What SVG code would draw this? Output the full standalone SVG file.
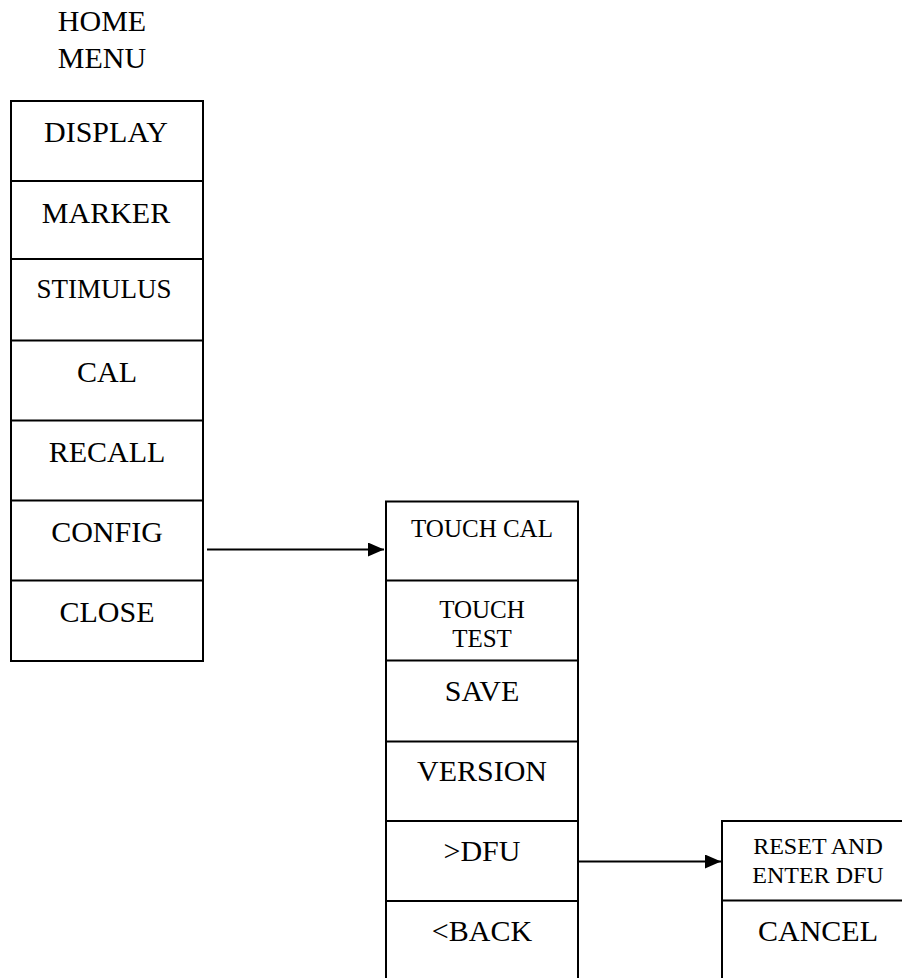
<svg xmlns="http://www.w3.org/2000/svg" width="902" height="978" viewBox="0 0 902 978">
  <defs>
    <style>
      .box { fill: #ffffff; stroke: #000000; stroke-width: 2; }
      .div { stroke: #000000; stroke-width: 2; }
      .lbl { font-family: "Liberation Serif", "Times New Roman", serif; fill: #000000; text-anchor: middle; }
      .big { font-size: 30px; }
      .mid { font-size: 27px; }
      .sm { font-size: 25px; }
      .xs { font-size: 24px; }
      .link { stroke: #000000; stroke-width: 2; fill: none; marker-end: url(#head); }
    </style>
    <marker id="head" viewBox="0 0 16 14" refX="16" refY="7" markerWidth="16" markerHeight="14" markerUnits="userSpaceOnUse" orient="auto">
      <path d="M0,0 L16,7 L0,14 Z" fill="#000000"/>
    </marker>
  </defs>
  <rect width="902" height="978" fill="#ffffff"/>

  <!-- title -->
  <g id="title">
    <text class="lbl big" x="102" y="31">HOME</text>
    <text class="lbl big" x="102" y="68">MENU</text>
  </g>

  <!-- home menu column -->
  <g id="home-menu">
    <rect class="box" x="11" y="101" width="192" height="560"/>
    <line class="div" x1="11" y1="181" x2="203" y2="181"/>
    <line class="div" x1="11" y1="259" x2="203" y2="259"/>
    <line class="div" x1="11" y1="340.5" x2="203" y2="340.5" stroke-width="3"/>
    <line class="div" x1="11" y1="420.5" x2="203" y2="420.5"/>
    <line class="div" x1="11" y1="500.5" x2="203" y2="500.5"/>
    <line class="div" x1="11" y1="580.5" x2="203" y2="580.5"/>
  </g>
  <g id="display"><text class="lbl big" x="106" y="142">DISPLAY</text></g>
  <g id="marker"><text class="lbl big" x="106" y="223">MARKER</text></g>
  <g id="stimulus"><text class="lbl mid" x="104" y="298">STIMULUS</text></g>
  <g id="cal"><text class="lbl big" x="107" y="382">CAL</text></g>
  <g id="recall"><text class="lbl big" x="107" y="462">RECALL</text></g>
  <g id="config"><text class="lbl big" x="107" y="542">CONFIG</text></g>
  <g id="close"><text class="lbl big" x="107" y="622">CLOSE</text></g>

  <!-- config submenu column -->
  <g id="config-menu">
    <rect class="box" x="386" y="501.5" width="192" height="500"/>
    <line class="div" x1="386" y1="580.5" x2="578" y2="580.5"/>
    <line class="div" x1="386" y1="660.5" x2="578" y2="660.5"/>
    <line class="div" x1="386" y1="741.5" x2="578" y2="741.5" stroke-width="3"/>
    <line class="div" x1="386" y1="821" x2="578" y2="821"/>
    <line class="div" x1="386" y1="901" x2="578" y2="901"/>
  </g>
  <g id="touch-cal"><text class="lbl sm" x="482" y="537">TOUCH CAL</text></g>
  <g id="touch-test">
    <text class="lbl sm" x="482" y="618">TOUCH</text>
    <text class="lbl sm" x="482" y="647">TEST</text>
  </g>
  <g id="save"><text class="lbl big" x="482" y="701">SAVE</text></g>
  <g id="version"><text class="lbl big" x="482" y="781">VERSION</text></g>
  <g id="dfu"><text class="lbl big" x="482" y="861">&gt;DFU</text></g>
  <g id="back"><text class="lbl big" x="482" y="941">&lt;BACK</text></g>

  <!-- dfu confirm column -->
  <g id="dfu-menu">
    <rect class="box" x="722" y="821" width="192" height="180"/>
    <line class="div" x1="722" y1="900.5" x2="914" y2="900.5"/>
  </g>
  <g id="reset-enter-dfu">
    <text class="lbl xs" x="818" y="854">RESET AND</text>
    <text class="lbl xs" x="818" y="883">ENTER DFU</text>
  </g>
  <g id="cancel"><text class="lbl big" x="818" y="941">CANCEL</text></g>

  <!-- connectors -->
  <g id="connectors">
    <path class="link" d="M207,549.5 H384"/>
    <path class="link" d="M578,861.5 H721"/>
  </g>
</svg>
